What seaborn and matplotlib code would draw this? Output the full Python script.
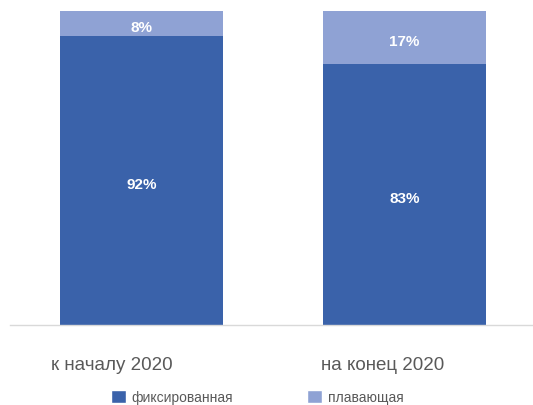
import matplotlib
matplotlib.use("Agg")
import matplotlib.pyplot as plt
import matplotlib.transforms as mtransforms
import seaborn as sns
import pandas as pd
from matplotlib.patches import Patch

categories = ["к началу 2020", "на конец 2020"]
fixed = [92, 83]
floating = [8, 17]
series_names = ["фиксированная", "плавающая"]

dark = "#3A62AA"
light = "#8FA2D4"

sns.set_theme(style="white")
plt.rcParams['font.family'] = ['Liberation Sans', 'DejaVu Sans']

df = pd.DataFrame({"cat": categories, "fixed": fixed, "floating": floating})
df["total"] = df["fixed"] + df["floating"]

fig = plt.figure(figsize=(5.33, 4.06), dpi=100)
ax = fig.add_axes([10/533, 80/406, 523/533, 314/406])

sns.barplot(data=df, x="cat", y="total", color=light, width=0.62, ax=ax,
            saturation=1, linewidth=0)
sns.barplot(data=df, x="cat", y="fixed", color=dark, width=0.62, ax=ax,
            saturation=1, linewidth=0)

down = mtransforms.ScaledTranslation(0, -3.5/100, fig.dpi_scale_trans)
for i, (f, fl) in enumerate(zip(fixed, floating)):
    ax.text(i, f / 2, f"{f}%", ha="center", va="center", color="white",
            fontsize=11, fontweight="bold", transform=ax.transData + down)
    ax.text(i, f + fl / 2, f"{fl}%", ha="center", va="center", color="white",
            fontsize=11, fontweight="bold", transform=ax.transData + down)

ax.set_xlim(-0.501, 1.49)
ax.set_ylim(0, 100)
ax.set_xlabel("")
ax.set_ylabel("")
ax.set_yticks([])
for s in ["top", "right", "left"]:
    ax.spines[s].set_visible(False)
ax.spines["bottom"].set_color("#D9D9D9")
ax.spines["bottom"].set_linewidth(1)
ax.tick_params(axis="x", length=0, pad=22, labelsize=13.5, labelcolor="#595959")

shifts = [-29.5, -22]
for lbl, sh in zip(ax.get_xticklabels(), shifts):
    lbl.set_transform(lbl.get_transform() +
                      mtransforms.ScaledTranslation(sh/100, 0, fig.dpi_scale_trans))

handles = [Patch(facecolor=dark, label=series_names[0]),
           Patch(facecolor=light, label=series_names[1])]
fig.legend(handles=handles, loc="center left", bbox_to_anchor=(111/533, 8/406), ncol=2,
           frameon=False, fontsize=10, handlelength=1.05, handleheight=1.1,
           columnspacing=5.3, handletextpad=0.45, labelcolor="#595959",
           borderpad=0, borderaxespad=0)

fig.savefig("out.png", dpi=100)
